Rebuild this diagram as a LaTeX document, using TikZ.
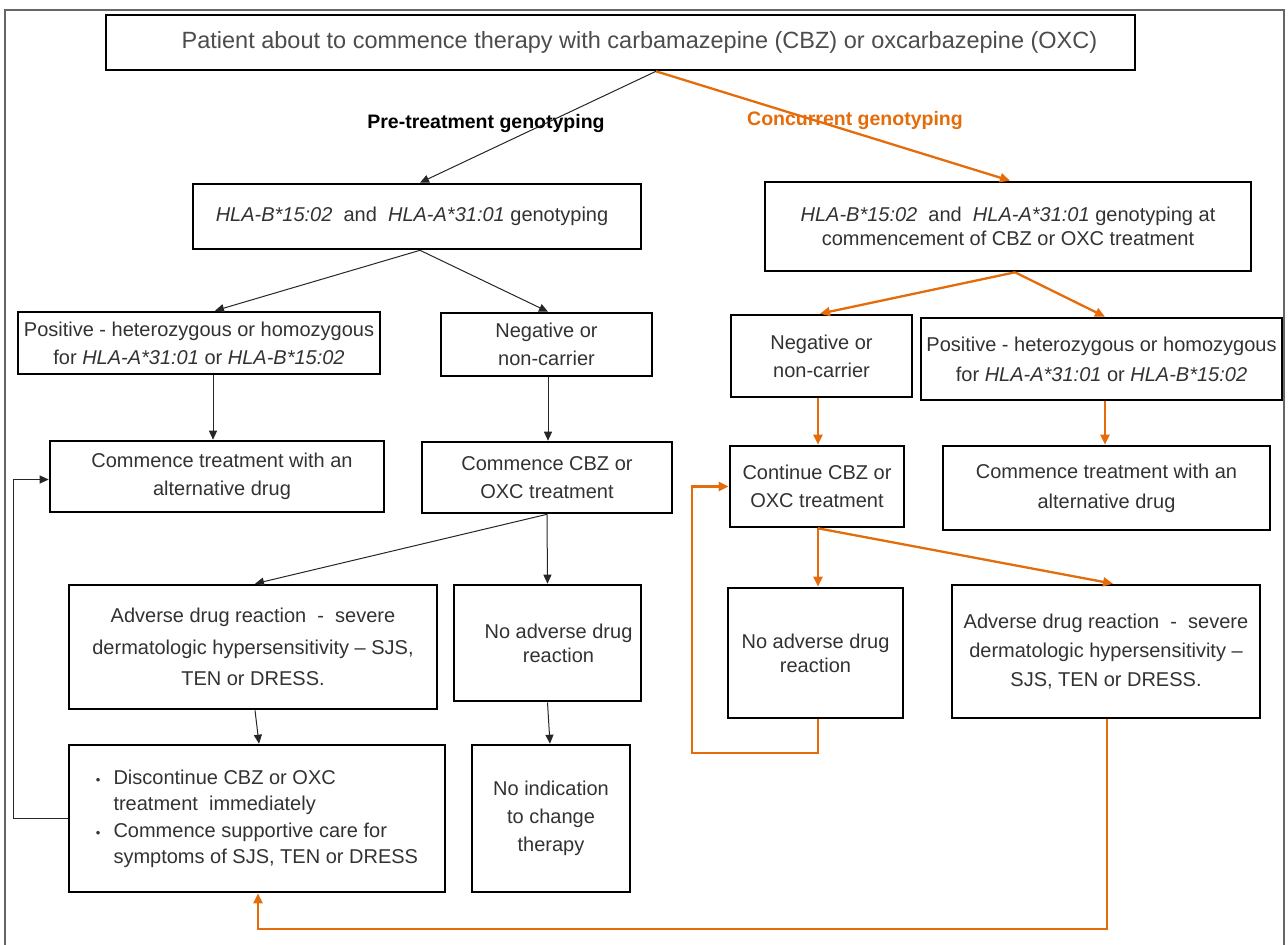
\documentclass[tikz,border=0pt]{standalone}
\usepackage{fontspec}
\setmainfont{Liberation Sans}
\usetikzlibrary{arrows.meta}
\definecolor{orng}{RGB}{228,108,10}
\definecolor{txt}{RGB}{50,50,50}
\begin{document}
\begin{tikzpicture}[x=1pt,y=-1pt,
  box/.style={draw=black, line width=2.6pt, inner sep=0pt, align=center, text=txt,
    font=\fontsize{20}{28}\selectfont},
  barrow/.style={draw=black!85, line width=1pt, -{Triangle[length=9pt,width=8pt]}},
  oarrow/.style={draw=orng, line width=2.3pt, -{Triangle[length=10pt,width=9pt]}},
  frame/.style={draw=black!60, line width=1.2pt},
  lbl/.style={font=\fontsize{19.5}{24}\selectfont\bfseries, inner sep=0pt}
]
\useasboundingbox (0,0) rectangle (1288,945);
\draw[frame] (5,945) -- (5,10) -- (1284,10) -- (1284,945);

% nodes
\node[box, minimum width=1029pt, minimum height=55pt, font=\fontsize{23.5}{28}\selectfont, text=black!70] (top) at (620.5,42.5)
  {\hspace*{38pt}Patient about to commence therapy with carbamazepine (CBZ) or oxcarbazepine (OXC)};
\node[lbl] (pre) at (486,123) {Pre-treatment genotyping};
\node[lbl, text=orng] (conc) at (855,120) {Concurrent genotyping};

\node[box, minimum width=448pt, minimum height=65pt] (hlaL) at (417,216.5)
  {\hspace*{-10pt}\textit{HLA-B*15:02}\ \ and\ \ \textit{HLA-A*31:01}\ genotyping};
\node[box, minimum width=486pt, minimum height=89pt, font=\fontsize{20}{24}\selectfont] (hlaR) at (1008,226.5)
  {\textit{HLA-B*15:02}\ \ and\ \ \textit{HLA-A*31:01} genotyping at\\commencement of CBZ or OXC treatment};

\node[box, minimum width=362pt, minimum height=62pt] (posL) at (199,343)
  {Positive - heterozygous or homozygous\\for \textit{HLA-A*31:01} or \textit{HLA-B*15:02}};
\node[box, minimum width=211pt, minimum height=63pt] (negL) at (546.5,344.5)
  {Negative or\\non-carrier};
\node[box, minimum width=181pt, minimum height=82pt] (negR) at (821.5,356)
  {Negative or\\non-carrier};
\node[box, minimum width=361pt, minimum height=82pt, font=\fontsize{20}{30}\selectfont] (posR) at (1101.5,359)
  {Positive - heterozygous or homozygous\\for \textit{HLA-A*31:01} or \textit{HLA-B*15:02}};

\node[box, minimum width=334pt, minimum height=71pt] (altL) at (217,476.5)
  {\hspace*{10pt}Commence treatment with an\\\hspace*{10pt}alternative drug};
\node[box, minimum width=250pt, minimum height=71pt] (comL) at (547,477.5)
  {Commence CBZ or\\OXC treatment};
\node[box, minimum width=174pt, minimum height=81pt] (conR) at (817,486.5)
  {Continue CBZ or\\OXC treatment};
\node[box, minimum width=327pt, minimum height=84pt, font=\fontsize{20}{30}\selectfont] (altR) at (1106.5,488)
  {Commence treatment with an\\alternative drug};

\node[box, minimum width=368pt, minimum height=124pt, font=\fontsize{20}{31.5}\selectfont] (adrL) at (253,647)
  {Adverse drug reaction\ \ -\ \ severe\\dermatologic hypersensitivity -- SJS,\\TEN or DRESS.};
\node[box, minimum width=187pt, minimum height=116pt, font=\fontsize{20}{24}\selectfont] (noL) at (547.5,643)
  {\hspace*{22pt}No adverse drug\\\hspace*{22pt}reaction};
\node[box, minimum width=175pt, minimum height=130pt, font=\fontsize{20}{24}\selectfont] (noR) at (815.5,653)
  {No adverse drug\\reaction};
\node[box, minimum width=308pt, minimum height=133pt, font=\fontsize{20}{29}\selectfont] (adrR) at (1106,651.5)
  {Adverse drug reaction\ \ -\ \ severe\\dermatologic hypersensitivity --\\SJS, TEN or DRESS.};

\node[box, minimum width=376pt, minimum height=147pt, font=\fontsize{20}{26.5}\selectfont] (disc) at (257,818.5)
  {\begin{tabular}{@{}l@{\hspace{13pt}}l@{}}
   {\fontsize{13}{13}\selectfont\textbullet} & Discontinue CBZ or OXC\\
    & treatment\ \ immediately\\
   {\fontsize{13}{13}\selectfont\textbullet} & Commence supportive care for\\
    & symptoms of SJS, TEN or DRESS
   \end{tabular}};
\node[box, minimum width=158pt, minimum height=147pt] (noind) at (551,818.5)
  {No indication\\to change\\therapy};

% black connectors
\draw[barrow] ([xshift=35.5pt]top.south) -- ([xshift=3pt]hlaL.north);
\draw[barrow] ([xshift=3pt]hlaL.south) -- ([xshift=16pt]posL.north);
\draw[barrow] ([xshift=3pt]hlaL.south) -- ([xshift=1.5pt]negL.north);
\draw[barrow] ([xshift=14pt]posL.south) -- ([xshift=-4pt]altL.north);
\draw[barrow] ([xshift=1.5pt]negL.south) -- ([xshift=1pt]comL.north);
\draw[barrow] (comL.south) -- ([xshift=2pt]adrL.north);
\draw[barrow] (comL.south) -- (noL.north);
\draw[barrow] ([xshift=2pt]adrL.south) -- ([xshift=2pt]disc.north);
\draw[barrow] (noL.south) -- ([xshift=-1pt]noind.north);
\draw[barrow] (disc.west) -- ++(-54,0) |- ([yshift=-3pt]altL.west);

% orange connectors
\draw[oarrow] ([xshift=35.5pt]top.south) -- ([xshift=2pt]hlaR.north);
\draw[oarrow] ([xshift=7pt]hlaR.south) -- ([xshift=-1.5pt]negR.north);
\draw[oarrow] ([xshift=7pt]hlaR.south) -- ([xshift=3.5pt]posR.north);
\draw[oarrow] ([xshift=-3.5pt]negR.south) -- ([xshift=1pt]conR.north);
\draw[oarrow] ([xshift=3.5pt]posR.south) -- ([xshift=-1.5pt]altR.north);
\draw[oarrow] ([xshift=1pt]conR.south) -- ([xshift=2.5pt]noR.north);
\draw[oarrow] ([xshift=1pt]conR.south) -- ([xshift=7pt]adrR.north);
\draw[oarrow] ([xshift=2.5pt]noR.south) -- ++(0,34) -| ([xshift=-37pt]conR.west) -- (conR.west);
\draw[oarrow] ([xshift=1pt]adrR.south) -- ++(0,210) -| ([xshift=1pt]disc.south);
\end{tikzpicture}
\end{document}
